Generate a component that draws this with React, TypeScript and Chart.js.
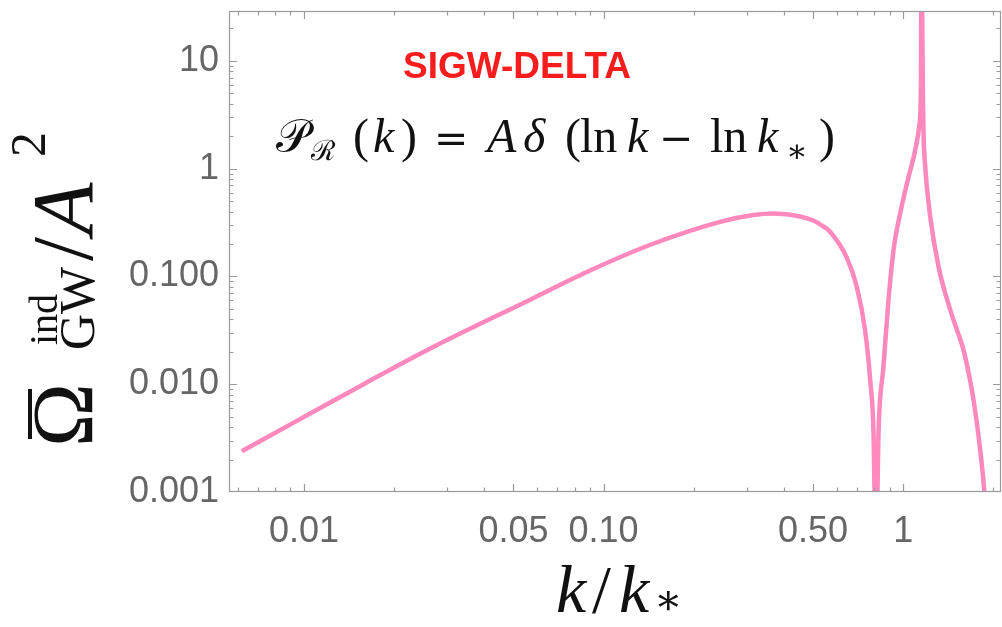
import React, { useEffect, useRef } from "react";
import { Chart, registerables } from "chart.js";
Chart.register(...registerables);

// k / k_* values
const kValues = [
  0.0062, 0.0094, 0.0157, 0.0261, 0.0564, 0.0879, 0.147, 0.245, 0.316, 0.369,
  0.453, 0.501, 0.542, 0.571, 0.649, 0.7, 0.746, 0.776, 0.796, 0.811, 0.827, 0.859,
  0.893, 0.928, 0.977, 1.042, 1.097, 1.134, 1.146, 1.15, 1.164, 1.169, 1.184, 1.231,
  1.312, 1.436, 1.511, 1.59, 1.717, 1.807, 1.865, 1.9,
];
// Omega_GW^ind / A^2 values
const omegaValues = [
  0.00239, 0.00452, 0.0099, 0.0211, 0.0602, 0.11, 0.202, 0.321, 0.371, 0.383,
  0.36, 0.33, 0.29, 0.258, 0.148, 0.08, 0.0317, 0.0109, 0.00348, 0.0002, 0.00348, 0.0145,
  0.0603, 0.175, 0.385, 0.841, 1.49, 2.64, 6.2, 100, 4.33, 2.13, 1.04, 0.357,
  0.123, 0.0486, 0.0318, 0.0207, 0.0071, 0.00244, 0.001, 0.0004,
];

const xMajorTicks = [0.01, 0.05, 0.1, 0.5, 1];
const xMajorLabels = ["0.01", "0.05", "0.10", "0.50", "1"];
const xMinorTicks = [
  0.006, 0.007, 0.008, 0.009, 0.02, 0.03, 0.04, 0.06, 0.07, 0.08, 0.09, 0.2,
  0.3, 0.4, 0.6, 0.7, 0.8, 0.9, 2,
];
const yMajorTicks = [0.001, 0.01, 0.1, 1, 10];
const yMajorLabels = ["0.001", "0.010", "0.100", "1", "10"];
const yMinorTicks = [
  0.002, 0.003, 0.004, 0.005, 0.006, 0.007, 0.008, 0.009, 0.02, 0.03, 0.04,
  0.05, 0.06, 0.07, 0.08, 0.09, 0.2, 0.3, 0.4, 0.5, 0.6, 0.7, 0.8, 0.9, 2, 3,
  4, 5, 6, 7, 8, 9, 20,
];

const titleText = "SIGW-DELTA";

function labelFor(value: number, majors: number[], labels: string[]) {
  for (let i = 0; i < majors.length; i++) {
    if (Math.abs(value / majors[i] - 1) < 1e-6) return labels[i];
  }
  return "";
}

const framePlugin = {
  id: "framePlugin",
  afterDraw(chart: any) {
    const { ctx, chartArea: a, scales } = chart;
    ctx.save();
    ctx.strokeStyle = "#9a9a9a";
    ctx.lineWidth = 1.2;
    ctx.strokeRect(a.left + 0.5, a.top + 0.5, a.right - a.left - 1, a.bottom - a.top - 1);
    const tick = (vals: number[], len: number) => {
      for (const v of vals) {
        const px = Math.round(scales.x.getPixelForValue(v)) + 0.5;
        if (px < a.left || px > a.right) continue;
        ctx.beginPath();
        ctx.moveTo(px, a.bottom);
        ctx.lineTo(px, a.bottom - len);
        ctx.moveTo(px, a.top);
        ctx.lineTo(px, a.top + len);
        ctx.stroke();
      }
    };
    const ytick = (vals: number[], len: number) => {
      for (const v of vals) {
        const py = Math.round(scales.y.getPixelForValue(v)) + 0.5;
        if (py < a.top || py > a.bottom) continue;
        ctx.beginPath();
        ctx.moveTo(a.left, py);
        ctx.lineTo(a.left + len, py);
        ctx.moveTo(a.right, py);
        ctx.lineTo(a.right - len, py);
        ctx.stroke();
      }
    };
    tick(xMajorTicks, 8);
    tick(xMinorTicks, 4.5);
    ytick(yMajorTicks, 8);
    ytick(yMinorTicks, 4.5);

    // red title
    ctx.fillStyle = "#f81c1c";
    ctx.font = 'bold 37px "Liberation Sans", Arial, sans-serif';
    ctx.textBaseline = "alphabetic";
    ctx.textAlign = "left";
    ctx.fillText(titleText, 403, 78);

    // formula
    ctx.fillStyle = "#111";
    const serif = '"Liberation Serif", "DejaVu Serif", serif';
    const up = (s: string, x: number, y: number, size: number, italic = false, fam = serif) => {
      ctx.font = `${italic ? "italic " : ""}${size}px ${fam}`;
      ctx.fillText(s, x, y);
    };
    const dv = '"DejaVu Serif", serif';
    const fb = 152;
    up("\u{1D4AB}", 276, fb, 46, false);
    up("\u211B", 311, fb + 8, 28, false);
    up("(", 353, fb, 48);
    up("k", 373, fb, 48, true);
    up(")", 401, fb, 48);
    up("=", 434, fb, 41, false, dv);
    up("A", 487, fb, 48, true);
    up("\u03B4", 523, fb, 48, true);
    up("(", 565, fb, 48);
    up("ln", 580, fb, 48);
    up("k", 627, fb, 48, true);
    up("\u2212", 659, fb, 41, false, dv);
    up("ln", 710, fb, 48);
    up("k", 757, fb, 48, true);
    up("\u2217", 786, fb + 10, 32);
    up(")", 819, fb, 48);

    // x title
    const xb = 612;
    up("k", 556, xb, 68, true);
    up("/", 592, xb, 68);
    up("k", 619, xb, 68, true);
    up("\u2217", 654, xb + 2, 42);

    // y title (rotated)
    ctx.save();
    ctx.translate(92, 447);
    ctx.rotate(-Math.PI / 2);
    up("\u03A9", 0, 0, 86);
    ctx.fillRect(8, -64, 50, 4);
    up("ind", 102, -35, 40);
    up("GW", 97, 2, 50);
    up("/", 186, 0, 86);
    up("A", 212, 0, 86, true);
    up("2", 290, -47, 50);
    ctx.restore();

    ctx.restore();
  },
};

export default function App() {
  const ref = useRef<HTMLCanvasElement | null>(null);
  useEffect(() => {
    if (!ref.current) return;
    const points = kValues.map((k, i) => ({ x: k, y: omegaValues[i] }));
    const chart = new Chart(ref.current, {
      type: "line",
      data: {
        datasets: [
          {
            data: points,
            borderColor: "#ff88bd",
            borderWidth: 4.5,
            pointRadius: 0,
            fill: false,
            cubicInterpolationMode: "monotone",
            clip: 0,
          } as any,
        ],
      },
      options: {
        animation: false,
        responsive: false,
        devicePixelRatio: 1,
        layout: { padding: { top: 11, right: 1, left: 0, bottom: 0 } },
        plugins: { legend: { display: false }, tooltip: { enabled: false } },
        scales: {
          x: {
            type: "logarithmic",
            min: 0.00562,
            max: 2.12,
            grid: { display: false, drawTicks: false },
            border: { display: false },
            afterFit: (s: any) => {
              s.height = 135;
              s.paddingLeft = 0;
              s.paddingRight = 0;
            },
            ticks: {
              autoSkip: false,
              maxRotation: 0,
              padding: 18,
              color: "#666",
              font: { family: '"Liberation Sans", Arial, sans-serif', size: 36 },
              callback: (v: any) => labelFor(Number(v), xMajorTicks, xMajorLabels),
            },
          },
          y: {
            type: "logarithmic",
            min: 0.001,
            max: 29,
            grid: { display: false, drawTicks: false },
            border: { display: false },
            afterFit: (s: any) => {
              s.width = 229;
              s.paddingTop = 0;
              s.paddingBottom = 0;
            },
            ticks: {
              autoSkip: false,
              padding: 10,
              color: "#666",
              font: { family: '"Liberation Sans", Arial, sans-serif', size: 36 },
              callback: (v: any) => labelFor(Number(v), yMajorTicks, yMajorLabels),
            },
          },
        },
      },
      plugins: [framePlugin],
    });
    return () => chart.destroy();
  }, []);
  return (
    <div style={{ position: "absolute", left: 0, top: 0, width: 1002, height: 627, background: "#fff" }}>
      <canvas ref={ref} width={1002} height={627} />
    </div>
  );
}
